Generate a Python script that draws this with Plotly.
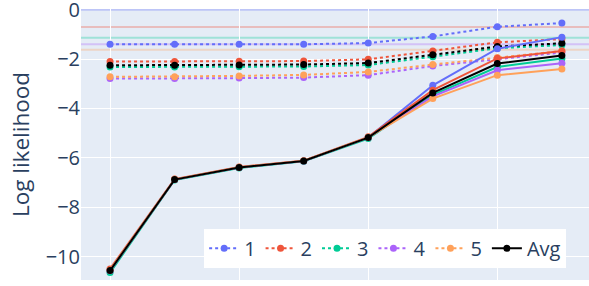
import plotly.graph_objects as go

steps = [0, 1, 2, 3, 4, 5, 6, 7]
names = ["1", "2", "3", "4", "5"]
colors = ["#636efa", "#EF553B", "#00cc96", "#ab63fa", "#FFA15A"]

solid = {
    "1": [-10.58, -6.88, -6.39, -6.13, -5.18, -3.06, -1.58, -1.11],
    "2": [-10.50, -6.86, -6.37, -6.12, -5.15, -3.26, -1.97, -1.67],
    "3": [-10.65, -6.90, -6.41, -6.14, -5.22, -3.45, -2.32, -1.98],
    "4": [-10.58, -6.88, -6.39, -6.13, -5.18, -3.51, -2.45, -2.17],
    "5": [-10.55, -6.87, -6.38, -6.12, -5.17, -3.60, -2.65, -2.40],
}
avg_solid = [-10.57, -6.88, -6.39, -6.13, -5.18, -3.37, -2.18, -1.85]

dotted = {
    "1": [-1.40, -1.40, -1.40, -1.40, -1.35, -1.08, -0.69, -0.54],
    "2": [-2.10, -2.10, -2.09, -2.08, -2.01, -1.67, -1.32, -1.19],
    "3": [-2.32, -2.32, -2.31, -2.30, -2.24, -1.90, -1.56, -1.43],
    "4": [-2.79, -2.79, -2.77, -2.75, -2.65, -2.28, -1.99, -1.73],
    "5": [-2.72, -2.71, -2.68, -2.64, -2.52, -2.22, -1.94, -1.67],
}
avg_dotted = [-2.25, -2.25, -2.24, -2.22, -2.16, -1.82, -1.49, -1.36]

ref_levels = [0.0, -0.70, -1.13, -1.40, -1.62]
ref_colors = ["#636efa", "#EF553B", "#00cc96", "#ab63fa", "#FFA15A"]

fig = go.Figure()

for lvl, c in zip(ref_levels, ref_colors):
    fig.add_shape(type="line", xref="paper", x0=0, x1=1, y0=lvl, y1=lvl,
                  line=dict(color=c, width=2), opacity=0.3, layer="below")

for n, c in zip(names, colors):
    fig.add_trace(go.Scatter(x=steps, y=dotted[n], name=n, mode="lines+markers",
                             line=dict(color=c, width=2, dash="dot"),
                             marker=dict(size=7), legendgroup=n))
fig.add_trace(go.Scatter(x=steps, y=avg_dotted, name="Avg", mode="lines+markers",
                         line=dict(color="black", width=2, dash="dot"),
                         marker=dict(size=7), legendgroup="Avg", showlegend=False))

for n, c in zip(names, colors):
    fig.add_trace(go.Scatter(x=steps, y=solid[n], name=n, mode="lines+markers",
                             line=dict(color=c, width=2),
                             marker=dict(size=7), legendgroup=n, showlegend=False))
fig.add_trace(go.Scatter(x=steps, y=avg_solid, name="Avg", mode="lines+markers",
                         line=dict(color="black", width=2),
                         marker=dict(size=7), legendgroup="Avg"))

fig.update_layout(
    width=589, height=286,
    margin=dict(l=81, r=0, t=9, b=6),
    font=dict(family="Open Sans", size=20, color="#2a3f5f"),
    plot_bgcolor="#E5ECF6",
    paper_bgcolor="white",
    legend=dict(orientation="h", x=0.955, xanchor="right", y=0.045, yanchor="bottom",
                bgcolor="white", font=dict(size=20), itemwidth=30,
                tracegroupgap=0),
    xaxis=dict(range=[-0.45, 7.42], showticklabels=False, gridcolor="white",
               dtick=2, zeroline=False, tick0=0),
    yaxis=dict(range=[-10.95, 0.03], title=dict(text="Log likelihood", font=dict(size=22.5),
               standoff=9),
               gridcolor="white", dtick=2, zeroline=False, automargin=False,
               ticklabeloverflow="allow"),
)

fig.write_html("out.html", config={"displayModeBar": False},
               post_script="document.body.style.margin='0';")
